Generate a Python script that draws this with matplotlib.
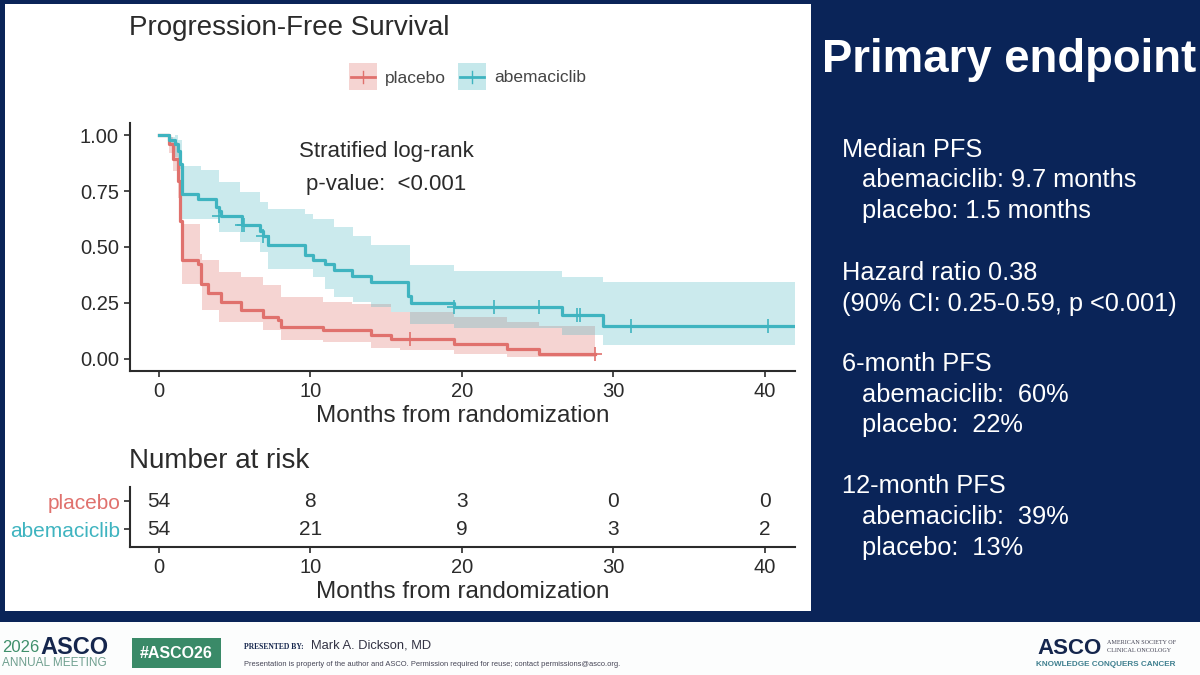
import matplotlib
matplotlib.use("Agg")
import matplotlib.pyplot as plt
from matplotlib.patches import Rectangle

plt.rcParams['font.family'] = ['Liberation Sans', 'DejaVu Sans']

W = 1200
H = 675

abema_t = [0, 0.7, 1.04, 1.26, 1.43, 1.54, 2.58, 3.79, 4.0, 4.12, 5.5, 6.65, 6.87, 7.2, 9.63, 10.18, 10.95, 11.6,
           12.75, 14.03, 16.45, 16.67, 19.5, 26.6, 29.3, 42]
abema_s = [1, 0.98, 0.96, 0.93, 0.87, 0.736, 0.714, 0.677, 0.66, 0.64, 0.6, 0.57, 0.551, 0.507, 0.465, 0.44, 0.425,
           0.396, 0.37, 0.345, 0.28, 0.252, 0.23, 0.198, 0.147, 0.147]
abema_band_t = [0, 0.7, 1.04, 1.26, 1.54, 2.8, 4.0, 5.33, 6.65, 7.2, 9.63, 10.18, 11.0, 11.6, 12.8, 14.0, 15.3, 16.6,
                19.5, 26.6, 29.3, 42]
abema_up = [1, 0.99, 1, 0.98, 0.862, 0.843, 0.79, 0.747, 0.70, 0.67, 0.647, 0.625, 0.625, 0.588, 0.551, 0.511, 0.511,
            0.418, 0.393, 0.367, 0.342, 0.342]
abema_lo = [1, 0.95, 0.9, 0.85, 0.625, 0.625, 0.566, 0.521, 0.477, 0.403, 0.403, 0.366, 0.314, 0.277, 0.255, 0.233,
            0.21, 0.156, 0.138, 0.107, 0.0625, 0.0625]
abema_cens_t = [4.0, 5.5, 5.65, 6.9, 19.5, 22.1, 25.1, 27.6, 27.8, 31.2, 40.2]
abema_cens_s = [0.64, 0.6, 0.6, 0.551, 0.23, 0.23, 0.23, 0.198, 0.198, 0.147, 0.147]

placebo_t = [0, 0.7, 0.93, 1.26, 1.41, 1.54, 2.58, 2.8, 3.26, 4.1, 5.4, 6.87, 7.1, 7.85, 8.1, 10.84, 14.03, 15.3,
             19.5, 23.0, 25.1, 28.8]
placebo_s = [1, 0.96, 0.893, 0.796, 0.617, 0.44, 0.425, 0.336, 0.295, 0.255, 0.218, 0.188, 0.188, 0.173, 0.144, 0.13,
             0.108, 0.089, 0.067, 0.045, 0.02, 0.02]
placebo_band_t = [0, 0.7, 0.93, 1.26, 1.54, 2.7, 2.85, 4.0, 5.4, 6.9, 8.1, 10.84, 12.75, 14.03, 15.3, 15.9, 19.5, 23,
                  25.1, 28.8]
placebo_up = [1, 0.99, 0.97, 0.93, 0.603, 0.47, 0.44, 0.388, 0.366, 0.329, 0.277, 0.255, 0.247, 0.247, 0.211, 0.211,
              0.187, 0.165, 0.149, 0.149]
placebo_lo = [1, 0.92, 0.84, 0.72, 0.336, 0.336, 0.218, 0.166, 0.166, 0.129, 0.084, 0.077, 0.077, 0.047, 0.047, 0.04,
              0.022, 0.01, 0.01, 0.01]
placebo_cens_t = [16.56, 28.8]
placebo_cens_s = [0.089, 0.02]

risk_times = [0, 10, 20, 30, 40]
risk_placebo = [54, 8, 3, 0, 0]
risk_abema = [54, 21, 9, 3, 2]
y_ticks = [0, 0.25, 0.5, 0.75, 1]
y_labels = ["0.00", "0.25", "0.50", "0.75", "1.00"]

side_text = [
    (842, 150, "Median PFS"),
    (862, 180, "abemaciclib: 9.7 months"),
    (862, 211, "placebo: 1.5 months"),
    (842, 273, "Hazard ratio 0.38"),
    (842, 304, "(90% CI: 0.25-0.59, p <0.001)"),
    (842, 364, "6-month PFS"),
    (862, 395, "abemaciclib:  60%"),
    (862, 425, "placebo:  22%"),
    (842, 486, "12-month PFS"),
    (862, 517, "abemaciclib:  39%"),
    (862, 548, "placebo:  13%"),
]

RED = "#E0716D"
TEAL = "#3FB4C0"
NAVY = "#0A2458"
DARK = "#2B2B2B"


def px_axes(fig, left, top, right, bottom):
    return fig.add_axes([left / W, 1 - bottom / H, (right - left) / W, (bottom - top) / H])


def ftext(fig, x, y, s, **kw):
    kw.setdefault("va", "center")
    fig.text(x / W, 1 - y / H, s, **kw)


def frect(fig, x0, y0, x1, y1, color):
    fig.add_artist(Rectangle((x0 / W, 1 - y1 / H), (x1 - x0) / W, (y1 - y0) / H, transform=fig.transFigure,
                             facecolor=color, edgecolor="none", zorder=-5))


fig = plt.figure(figsize=(12, 6.75), dpi=100, facecolor=NAVY)
frect(fig, 5, 4, 811, 611, "white")
frect(fig, 0, 622, W, H, "#FCFDFD")

# survival curves
ax = px_axes(fig, 130, 123, 795, 371)
ax.patch.set_alpha(0)
ax.fill_between(placebo_band_t, placebo_lo, placebo_up, step="post", color=RED, alpha=0.3, lw=0)
ax.fill_between(abema_band_t, abema_lo, abema_up, step="post", color=TEAL, alpha=0.27, lw=0)
ax.step(placebo_t, placebo_s, where="post", color=RED, lw=2.3)
ax.step(abema_t, abema_s, where="post", color=TEAL, lw=2.3)
ax.plot(placebo_cens_t, placebo_cens_s, "+", color=RED, ms=10, mew=1.2)
ax.plot(abema_cens_t, abema_cens_s, "+", color=TEAL, ms=10, mew=1.2)
ax.set_xlim(-1.9, 42)
ax.set_ylim(-0.054, 1.054)
ax.set_xticks(risk_times)
ax.set_yticks(y_ticks, y_labels)
ax.set_xlabel("Months from randomization", fontsize=17.5, color=DARK, labelpad=3)
ax.tick_params(labelsize=14.5, colors=DARK, width=1.2, length=4, pad=4)
ax.spines[["top", "right"]].set_visible(False)
ax.spines[["left", "bottom"]].set_linewidth(1.5)
ax.spines[["left", "bottom"]].set_color(DARK)
ax.text(15.0, 0.925, "Stratified log-rank", fontsize=16, color=DARK, ha="center", va="center")
ax.text(15.0, 0.78, "p-value:  <0.001", fontsize=16, color=DARK, ha="center", va="center")

# risk table
rt = px_axes(fig, 130, 487, 795, 547)
rt.patch.set_alpha(0)
for t, a, b in zip(risk_times, risk_placebo, risk_abema):
    rt.text(t, 1, str(a), fontsize=15, color=DARK, ha="center", va="center")
    rt.text(t, 0, str(b), fontsize=15, color=DARK, ha="center", va="center")
rt.set_xlim(-1.9, 42)
rt.set_ylim(-0.64, 1.5)
rt.set_xticks(risk_times)
rt.set_yticks([1, 0], ["placebo", "abemaciclib"])
rt.set_xlabel("Months from randomization", fontsize=17.5, color=DARK, labelpad=3)
rt.tick_params(axis="x", labelsize=14.5, colors=DARK, width=1.2, length=4, pad=4)
rt.tick_params(axis="y", labelsize=15, width=1.2, length=4, pad=3, color=DARK)
rt.get_yticklabels()[0].set_color(RED)
rt.get_yticklabels()[1].set_color(TEAL)
rt.spines[["top", "right"]].set_visible(False)
rt.spines[["left", "bottom"]].set_linewidth(1.5)
rt.spines[["left", "bottom"]].set_color(DARK)

ftext(fig, 129, 28, "Progression-Free Survival", fontsize=20, color=DARK)
ftext(fig, 129, 461, "Number at risk", fontsize=20, color=DARK)

# legend built by hand to sit where the slide has it
for x0, col, label in [(349, RED, "placebo"), (458, TEAL, "abemaciclib")]:
    frect(fig, x0, 63, x0 + 28, 90, col + "4D")
    fig.add_artist(plt.Line2D([(x0 + 2) / W, (x0 + 26) / W], [1 - 77 / H] * 2, color=col, lw=2))
    fig.add_artist(plt.Line2D([(x0 + 14) / W] * 2, [1 - 71 / H, 1 - 83 / H], color=col, lw=1))
    ftext(fig, x0 + 36, 78, label, fontsize=12.5, color="#444444")

# right panel
ftext(fig, 822, 60, "Primary endpoint", fontsize=32.8, color="white", fontweight="bold")
for x, y, s in side_text:
    ftext(fig, x, y, s, fontsize=18.3, color="white")

# footer
ftext(fig, 2, 648, "2026", fontsize=12, color="#3F8F6B")
ftext(fig, 40, 647, "ASCO", fontsize=17, color="#15264D", fontweight="bold")
ftext(fig, 2, 663, "ANNUAL MEETING", fontsize=8.5, color="#6F9F8F")
frect(fig, 132, 638, 221, 668, "#3A8A68")
ftext(fig, 176, 653, "#ASCO26", fontsize=11.5, color="white", fontweight="bold", ha="center")
ftext(fig, 244, 647, "PRESENTED BY:", fontsize=5.5, color="#15264D", fontweight="bold", family="Liberation Serif")
ftext(fig, 311, 645, "Mark A. Dickson, MD", fontsize=9.3, color="#333344")
ftext(fig, 244, 664, "Presentation is property of the author and ASCO. Permission required for reuse; contact permissions@asco.org.",
      fontsize=5.4, color="#444455")
ftext(fig, 1037, 648, "ASCO", fontsize=16, color="#15264D", fontweight="bold")
ftext(fig, 1107, 643, "AMERICAN SOCIETY OF", fontsize=4.4, color="#444455", family="Liberation Serif")
ftext(fig, 1107, 651, "CLINICAL ONCOLOGY", fontsize=4.4, color="#444455", family="Liberation Serif")
ftext(fig, 1036, 664, "KNOWLEDGE CONQUERS CANCER", fontsize=5.9, color="#3F7F8F", fontweight="bold")

fig.savefig("out.png", dpi=100, facecolor=fig.get_facecolor())
